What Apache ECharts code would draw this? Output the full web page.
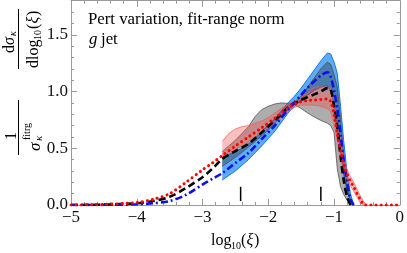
<!DOCTYPE html>
<html>
<head>
<meta charset="utf-8">
<script src="https://cdn.jsdelivr.net/npm/echarts@6/dist/echarts.min.js"></script>
<style>html,body{margin:0;padding:0;background:#fff;}#c{width:407px;height:253px;}</style>
</head>
<body>
<div id="c"></div>
<script>
// ---- data ----
var xTicks = [-5, -4, -3, -2, -1, 0];
var yTicks = [0, 0.5, 1.0, 1.5];
var lineX = [-5, -4.5, -4.0, -3.75, -3.5, -3.25, -3.0, -2.85, -2.7, -2.5, -2.3, -2.1, -1.9, -1.7, -1.6, -1.5, -1.4, -1.3, -1.2, -1.1, -1.05, -1.0, -0.95, -0.9, -0.85, -0.8, -0.75, -0.7, -0.65, -0.6, -0.55, -0.5, 0];
var blackCentral = [0, 0.003, 0.015, 0.035, 0.072, 0.15, 0.245, 0.32, 0.405, 0.475, 0.54, 0.64, 0.745, 0.86, 0.895, 0.925, 0.95, 0.975, 1.0, 1.03, 1.02, 0.87, 0.69, 0.43, 0.21, 0.07, 0, null, null, null, null, null, null];
var blueCentral = [0, 0.001, 0.006, 0.015, 0.035, 0.09, 0.18, 0.23, 0.28, 0.37, 0.46, 0.58, 0.70, 0.84, 0.905, 0.97, 1.035, 1.09, 1.14, 1.17, 1.13, 1.01, 0.85, 0.62, 0.38, 0.20, 0.05, 0, null, null, null, null, null];
var redCentral = [0, 0.005, 0.022, 0.05, 0.10, 0.20, 0.31, 0.37, 0.435, 0.52, 0.60, 0.68, 0.765, 0.855, 0.89, 0.91, 0.92, 0.925, 0.93, 0.935, 0.91, 0.80, 0.63, 0.48, 0.35, 0.27, 0.21, 0.16, 0.10, 0.05, 0.005, 0, 0];

var bandX = [-2.7, -2.6, -2.5, -2.4, -2.3, -2.2, -2.1, -2.0, -1.9, -1.8, -1.7, -1.6, -1.5, -1.4, -1.3, -1.2, -1.1, -1.05, -1.0, -0.95, -0.9, -0.85, -0.8, -0.75, -0.7, -0.65, -0.6, -0.55, -0.5];
var blueLow  = [0.22, 0.26, 0.30, 0.35, 0.40, 0.46, 0.52, 0.585, 0.65, 0.73, 0.81, 0.87, 0.92, 0.97, 1.01, 1.04, 1.05, 1.0, 0.88, 0.70, 0.48, 0.26, 0.12, 0.03, 0, null, null, null, null];
var blueHigh = [0.42, 0.445, 0.47, 0.50, 0.54, 0.59, 0.65, 0.705, 0.76, 0.83, 0.90, 0.96, 1.03, 1.11, 1.19, 1.27, 1.34, 1.33, 1.26, 1.16, 0.87, 0.55, 0.28, 0.10, 0, null, null, null, null];
var grayLow  = [0.34, 0.38, 0.42, 0.465, 0.51, 0.56, 0.61, 0.66, 0.72, 0.78, 0.84, 0.885, 0.85, 0.81, 0.775, 0.745, 0.72, 0.70, 0.64, 0.32, 0.16, 0.09, 0.04, 0.01, 0, null, null, null, null];
var grayHigh = [0.47, 0.52, 0.57, 0.63, 0.69, 0.78, 0.84, 0.87, 0.89, 0.90, 0.895, 0.90, 0.96, 1.04, 1.12, 1.20, 1.26, 1.24, 1.15, 1.04, 0.75, 0.42, 0.18, 0.05, 0, null, null, null, null];
var redLow   = [0.41, 0.46, 0.49, 0.52, 0.56, 0.60, 0.64, 0.68, 0.72, 0.77, 0.82, 0.86, 0.88, 0.88, 0.88, 0.87, 0.85, 0.82, 0.72, 0.56, 0.42, 0.30, 0.23, 0.17, 0.12, 0.07, 0.02, 0, 0];
var redHigh  = [0.56, 0.63, 0.67, 0.69, 0.70, 0.72, 0.74, 0.77, 0.81, 0.85, 0.89, 0.92, 0.95, 0.99, 1.04, 1.04, 1.04, 1.02, 0.90, 0.72, 0.56, 0.39, 0.31, 0.25, 0.20, 0.14, 0.08, 0.03, 0];

var fitRange = [-2.42, -1.2];
var fitMarkY = [0.035, 0.16];

// ---- helpers ----
function pairs(xs, ys) {
  var out = [];
  for (var i = 0; i < xs.length; i++) { if (ys[i] !== null) out.push([xs[i], ys[i]]); }
  return out;
}
var SERIF = '"Liberation Serif", "Times New Roman", serif';
function fmtMinus(v) { return String(v).replace('-', '\u2212'); }

function band(lo, hi, fill, edge, edgeW) {
  return {
    type: 'custom', coordinateSystem: 'cartesian2d', silent: true, z: 2,
    data: [[bandX[0], lo[0]]],
    renderItem: function (params, api) {
      var up = [], dn = [];
      for (var i = 0; i < bandX.length; i++) {
        if (lo[i] === null) continue;
        up.push(api.coord([bandX[i], hi[i]]));
        dn.push(api.coord([bandX[i], lo[i]]));
      }
      var poly = up.concat(dn.slice().reverse());
      return { type: 'group', children: [
        { type: 'polygon', shape: { points: poly }, style: { fill: fill, stroke: null } },
        { type: 'polyline', shape: { points: up }, style: { stroke: edge, lineWidth: edgeW, fill: null } },
        { type: 'polyline', shape: { points: dn }, style: { stroke: edge, lineWidth: edgeW, fill: null } }
      ] };
    }
  };
}

var series = [];
series.push(band(blueLow, blueHigh, 'rgba(30,140,250,0.72)', 'rgba(20,120,235,1)', 1));
series.push(band(grayLow, grayHigh, 'rgba(50,50,50,0.40)', 'rgba(70,70,70,0.9)', 0.8));
series.push(band(redLow, redHigh, 'rgba(255,60,60,0.33)', 'rgba(240,90,90,0.9)', 0.8));

series.push({ type: 'line', data: pairs(lineX, blackCentral), symbol: 'none', smooth: 0.3, z: 5,
  lineStyle: { color: '#000', width: 2.6, type: [7, 4] } });
series.push({ type: 'line', data: pairs(lineX, blueCentral), symbol: 'none', smooth: 0.3, z: 5,
  lineStyle: { color: '#0a10e8', width: 2.6, type: [7, 3, 2, 3] } });
series.push({ type: 'line', data: pairs(lineX, redCentral), symbol: 'none', smooth: 0.3, z: 6,
  lineStyle: { color: '#ff0000', width: 3, type: [0.1, 5], cap: 'round' } });
fitRange.forEach(function (fx) {
  series.push({ type: 'line', data: [[fx, fitMarkY[0]], [fx, fitMarkY[1]]], symbol: 'none', z: 7,
    lineStyle: { color: '#000', width: 1.5 } });
});

var axisCol = '#999';
var chart = echarts.init(document.getElementById('c'), null, { renderer: 'canvas' });
chart.setOption({
  animation: false,
  backgroundColor: '#fff',
  grid: { left: 71, right: 4, top: 0.7, bottom: 48 },
  xAxis: [
    { type: 'value', min: -5, max: 0, interval: 1, position: 'bottom',
      axisLine: { show: true, onZero: false, lineStyle: { color: axisCol, width: 1 } },
      axisTick: { show: true, inside: true, length: 6, lineStyle: { color: axisCol } },
      minorTick: { show: true, splitNumber: 5, length: 3, lineStyle: { color: axisCol } },
      splitLine: { show: false },
      axisLabel: { color: '#111', fontFamily: SERIF, fontSize: 17, margin: 4, formatter: function (v) { return fmtMinus(v); } } },
    { type: 'value', min: -5, max: 0, interval: 1, position: 'top',
      axisLine: { show: true, onZero: false, lineStyle: { color: axisCol, width: 1 } },
      axisTick: { show: true, inside: true, length: 6, lineStyle: { color: axisCol } },
      minorTick: { show: true, splitNumber: 5, length: 3, lineStyle: { color: axisCol } },
      splitLine: { show: false }, axisLabel: { show: false } }
  ],
  yAxis: [
    { type: 'value', min: 0, max: 1.8, interval: 0.5, position: 'left',
      axisLine: { show: true, onZero: false, lineStyle: { color: axisCol, width: 1 } },
      axisTick: { show: true, inside: true, length: 6, lineStyle: { color: axisCol } },
      minorTick: { show: true, splitNumber: 5, length: 3, lineStyle: { color: axisCol } },
      splitLine: { show: false },
      axisLabel: { color: '#111', fontFamily: SERIF, fontSize: 17, margin: 3, showMaxLabel: false,
        formatter: function (v) { return yTicks.indexOf(v) >= 0 ? v.toFixed(1) : ''; } } },
    { type: 'value', min: 0, max: 1.8, interval: 0.5, position: 'right',
      axisLine: { show: true, onZero: false, lineStyle: { color: axisCol, width: 1 } },
      axisTick: { show: true, inside: true, length: 6, lineStyle: { color: axisCol } },
      minorTick: { show: true, splitNumber: 5, length: 3, lineStyle: { color: axisCol } },
      splitLine: { show: false }, axisLabel: { show: false } }
  ],
  series: series,
  graphic: [
    { type: 'text', x: 88, y: 19.5, z: 10, style: { text: 'Pert variation, fit-range norm', font: '16.8px ' + SERIF, fill: '#000', verticalAlign: 'middle' } },
    { type: 'text', x: 89, y: 39.5, z: 10, style: { text: 'g', font: 'italic 16.8px ' + SERIF, fill: '#000', verticalAlign: 'middle' } },
    { type: 'text', x: 101, y: 39.5, z: 10, style: { text: 'jet', font: '16.8px ' + SERIF, fill: '#000', verticalAlign: 'middle' } },
    // x-axis name
    { type: 'text', x: 211, y: 241, z: 10, style: { text: 'log', font: '16px ' + SERIF, fill: '#000', verticalAlign: 'middle' } },
    { type: 'text', x: 231, y: 246, z: 10, style: { text: '10', font: '10px ' + SERIF, fill: '#000', verticalAlign: 'middle' } },
    { type: 'text', x: 241, y: 241, z: 10, style: { text: '(', font: '16px ' + SERIF, fill: '#000', verticalAlign: 'middle' } },
    { type: 'text', x: 246.5, y: 241, z: 10, style: { text: 'ξ', font: 'italic 16px ' + SERIF, fill: '#000', verticalAlign: 'middle' } },
    { type: 'text', x: 254, y: 241, z: 10, style: { text: ')', font: '16px ' + SERIF, fill: '#000', verticalAlign: 'middle' } },
    // y-axis name (rotated fraction)
    { type: 'group', x: 18.5, y: 154, rotation: Math.PI / 2, z: 10, children: [
      { type: 'line', shape: { x1: -1, y1: 0, x2: 54, y2: 0 }, style: { stroke: '#000', lineWidth: 1 } },
      { type: 'text', x: 18, y: -7, style: { text: '1', font: '16px ' + SERIF, fill: '#000', align: 'center', verticalAlign: 'middle' } },
      { type: 'text', x: 3, y: 17, style: { text: 'σ', font: 'italic 17px ' + SERIF, fill: '#000', verticalAlign: 'middle' } },
      { type: 'text', x: 14, y: 9, style: { text: 'fitrg', font: '10px ' + SERIF, fill: '#000', verticalAlign: 'middle' } },
      { type: 'text', x: 13, y: 21, style: { text: 'κ', font: 'italic 11px ' + SERIF, fill: '#000', verticalAlign: 'middle' } },
      { type: 'line', shape: { x1: 85, y1: 0, x2: 145, y2: 0 }, style: { stroke: '#000', lineWidth: 1 } },
      { type: 'text', x: 101, y: -9, style: { text: 'd', font: '16px ' + SERIF, fill: '#000', verticalAlign: 'middle' } },
      { type: 'text', x: 109, y: -9, style: { text: 'σ', font: 'italic 16px ' + SERIF, fill: '#000', verticalAlign: 'middle' } },
      { type: 'text', x: 118, y: -5, style: { text: 'κ', font: 'italic 10px ' + SERIF, fill: '#000', verticalAlign: 'middle' } },
      { type: 'text', x: 86, y: 15, style: { text: 'dlog', font: '16px ' + SERIF, fill: '#000', verticalAlign: 'middle' } },
      { type: 'text', x: 114, y: 20, style: { text: '10', font: '10px ' + SERIF, fill: '#000', verticalAlign: 'middle' } },
      { type: 'text', x: 125, y: 15, style: { text: '(', font: '16px ' + SERIF, fill: '#000', verticalAlign: 'middle' } },
      { type: 'text', x: 130.5, y: 15, style: { text: 'ξ', font: 'italic 16px ' + SERIF, fill: '#000', verticalAlign: 'middle' } },
      { type: 'text', x: 138, y: 15, style: { text: ')', font: '16px ' + SERIF, fill: '#000', verticalAlign: 'middle' } }
    ] }
  ]
});
</script>
</body>
</html>
